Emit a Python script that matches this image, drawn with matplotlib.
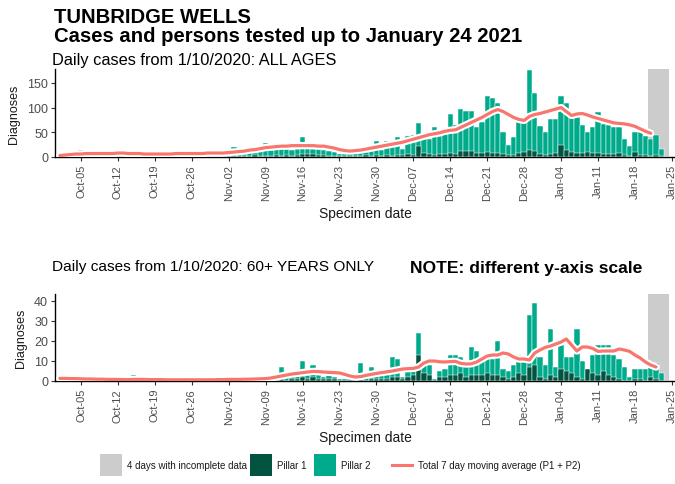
import numpy as np
import pandas as pd
import matplotlib
matplotlib.use("Agg")
import matplotlib.pyplot as plt
import matplotlib.dates as mdates
import matplotlib.patheffects as pe
from matplotlib.patches import Rectangle
from matplotlib.lines import Line2D

plt.rcParams['font.family'] = ['Liberation Sans', 'DejaVu Sans']

# specimen dates, 1 Oct 2020 .. 24 Jan 2021
dates = pd.date_range("2020-10-01", "2021-01-24", freq="D")
incomplete_start = pd.Timestamp("2021-01-21")
incomplete_days = 4

# ---- all ages: total cases (P1 + P2) and pillar 1 cases ----
all_total = [
    3, 5, 4, 6, 15, 7, 5, 6, 8, 4, 5, 7, 6, 5, 8, 6, 4, 5, 7, 6, 5, 4, 6, 7, 5, 8, 6, 5, 7, 6, 9,
    6, 8, 21, 10, 11, 12, 13, 14, 28, 15, 16, 17, 16, 15, 17, 40, 18, 17, 16, 14, 12, 10,
    6, 7, 8, 9, 10, 11, 12, 32, 14, 33, 22, 41, 16, 43, 45,
    68,
    38, 36, 61, 43, 47, 87, 64, 97, 94, 94, 60, 70, 123, 119, 109, 50, 24, 40, 72, 78,
    175, 129, 63, 50, 77, 77, 124, 109, 87, 80, 64, 50, 60, 92, 67, 64, 60, 60, 36, 23,
    50, 50, 43, 37, 45, 16, 0,
]
all_p1 = [
    1, 0, 1, 2, 1, 0, 1, 1, 0, 2, 1, 1, 0, 1, 2, 1, 0, 1, 1, 0, 1, 2, 1, 0, 1, 1, 2, 1, 0, 1, 2,
    2, 1, 3, 2, 2, 3, 4, 3, 2, 3, 4, 3, 4, 3, 5, 6, 7, 6, 5, 4, 3, 2,
    3, 2, 3, 2, 3, 4, 2, 5, 3, 4, 3, 5, 4, 6, 5,
    22,
    8, 6, 5, 7, 6, 8, 7, 12, 13, 12, 8, 9, 10, 8, 9, 7, 4, 5, 8, 11,
    14, 13, 6, 5, 7, 8, 24, 15, 11, 9, 8, 10, 9, 8, 7, 6, 7, 9, 4, 3,
    10, 5, 4, 3, 4, 2, 0,
]
# 7 day moving average of all ages, up to 21 Jan
all_avg = [
    3, 4, 5, 6, 6, 7, 7, 7, 7, 7, 7, 8, 8, 7, 7, 7, 6, 6, 6, 6, 6, 6, 7, 7, 7, 7, 7, 7, 8, 8, 8,
    8, 9, 10, 11, 12, 14, 15, 17, 19, 20, 21, 22, 22, 23, 23, 23, 23, 23, 22, 22, 20, 18,
    15, 13, 12, 13, 14, 16, 18, 20, 22, 24, 26, 28, 30, 33, 36,
    39,
    42, 45, 47, 49, 52, 54, 55, 60, 65, 70, 75, 80, 86, 92, 96, 92, 86, 80, 76, 74,
    82, 86, 88, 91, 94, 97, 100, 92, 84, 87, 88, 85, 81, 78, 75, 72, 69, 68, 67, 65,
    62, 57, 52, 48,
]

# ---- 60+ years ----
old_total = [
    1, 3, 2, 2, 2, 1, 1, 0, 1, 1, 0, 1, 1, 0, 3, 1, 0, 1, 0, 1, 1, 0, 1, 0, 1, 1, 0, 1, 0, 1, 1,
    0, 1, 1, 0, 1, 1, 0, 1, 1, 2, 1, 7, 3, 3, 3, 10, 3, 8, 3, 2, 3, 2,
    1, 1, 1, 2, 9, 2, 7, 3, 4, 5, 12, 11, 2, 5, 5,
    24,
    8, 8, 1, 5, 6, 13, 13, 12, 10, 17, 15, 11, 11, 11, 20, 6, 5, 8, 13, 10,
    33, 39, 12, 8, 26, 7, 18, 12, 12, 26, 10, 5, 13, 18, 18, 18, 13, 11, 7, 2,
    6, 6, 6, 10, 9, 4, 0,
]
old_p1 = [
    0, 0, 0, 1, 0, 0, 0, 0, 0, 0, 0, 0, 0, 0, 0, 0, 0, 0, 0, 0, 0, 0, 0, 0, 0, 0, 0, 0, 0, 0, 0,
    0, 0, 0, 0, 0, 0, 0, 0, 0, 0, 0, 1, 0, 1, 1, 2, 1, 2, 1, 1, 1, 1,
    0, 0, 0, 0, 1, 0, 1, 1, 1, 1, 2, 2, 1, 2, 3,
    13,
    4, 3, 0, 2, 2, 3, 3, 4, 2, 3, 3, 3, 4, 3, 3, 2, 1, 2, 4, 3,
    7, 8, 2, 1, 3, 2, 6, 5, 4, 2, 1, 6, 4, 3, 5, 3, 2, 1, 0, 0,
    1, 1, 0, 2, 1, 0, 0,
]
old_avg = [
    1.3, 1.3, 1.2, 1.2, 1.1, 1.0, 1.0, 0.9, 0.9, 0.8, 0.8, 0.8, 0.7, 0.7, 0.8, 0.8, 0.8, 0.7,
    0.7, 0.7, 0.6, 0.6, 0.6, 0.6, 0.6, 0.6, 0.6, 0.6, 0.6, 0.6, 0.7,
    0.7, 0.8, 0.8, 0.8, 0.9, 0.9, 1.0, 1.1, 1.2, 1.5, 2.0, 2.5, 3.0, 3.5, 3.8, 4.2, 4.5, 4.8,
    4.7, 4.5, 4.3, 4.2, 4.0,
    3.3, 2.5, 2.0, 2.2, 2.8, 3.3, 3.8, 4.2, 4.6, 5.0, 5.5, 6.0, 6.2, 6.3, 7.0,
    9.0,
    10.0, 10.0, 9.6, 9.5, 9.7, 9.8, 8.8, 8.5, 8.6, 9.5, 11.0, 12.5, 13.0, 13.0, 14.0, 13.5,
    12.0, 11.0, 11.0, 10.5,
    14.0, 15.5, 16.8, 17.5, 18.5, 19.5, 21.0, 18.0, 15.0, 17.0, 17.0, 16.3, 14.8, 15.0, 15.0,
    15.0, 16.0, 15.5, 14.8, 13.0,
    11.5, 9.5, 8.0, 7.0,
]

C_P1 = "#02533f"
C_P2 = "#00ab8c"
C_AVG = "#f8766d"
C_GREY = "#cccccc"
TXT = "#1a1a1a"
TICK = "#4d4d4d"

fig = plt.figure(figsize=(6.75, 4.85), dpi=100)
W, H = 675, 485


def fx(px):
    return px / W


def fy(py):
    return 1 - py / H


def ax_at(left, top, right, bottom):
    return fig.add_axes([fx(left), fy(bottom), (right - left) / W, (bottom - top) / H])


def draw_panel(ax, total, p1, avg, ymax, yticks):
    x = mdates.date2num(dates)
    ax.axvspan(mdates.date2num(incomplete_start) - 0.5,
               mdates.date2num(incomplete_start) + incomplete_days - 0.5,
               color=C_GREY, lw=0, zorder=0)
    ax.bar(x, total, width=1.0, color=C_P2, edgecolor="white", linewidth=0.35, zorder=2)
    ax.bar(x, p1, width=1.0, color=C_P1, edgecolor="white", linewidth=0.35, zorder=3)
    ax.plot(x[:len(avg)], avg, color=C_AVG, lw=2.3, solid_capstyle="round", zorder=4,
            path_effects=[pe.Stroke(linewidth=5.3, foreground="white"), pe.Normal()])
    ax.set_xlim(mdates.date2num(pd.Timestamp("2020-09-30")) + 0.07,
                mdates.date2num(pd.Timestamp("2021-01-25")) + 0.6)
    ax.set_ylim(0, ymax)
    ax.set_yticks(yticks)
    ax.xaxis.set_major_locator(mdates.WeekdayLocator(byweekday=mdates.MO))
    ax.xaxis.set_major_formatter(mdates.DateFormatter("%b-%d"))
    ax.tick_params(axis="x", labelrotation=90, labelsize=8, colors=TICK, length=3, pad=2)
    ax.tick_params(axis="y", labelsize=9, colors=TICK, length=3, pad=2)
    ax.tick_params(axis="both", color="#333333")
    for s in ("top", "right"):
        ax.spines[s].set_visible(False)
    for s in ("left", "bottom"):
        ax.spines[s].set_color("black")
        ax.spines[s].set_linewidth(1.0)
    ax.set_ylabel("Diagnoses", fontsize=9, color=TXT, labelpad=5)
    ax.set_xlabel("Specimen date", fontsize=10, color=TXT, labelpad=4)


ax1 = ax_at(55, 70, 675, 158)
draw_panel(ax1, all_total, all_p1, all_avg, 178, [0, 50, 100, 150])

ax2 = ax_at(55, 295, 675, 382)
draw_panel(ax2, old_total, old_p1, old_avg, 43.5, [0, 10, 20, 30, 40])

fig.text(fx(54), fy(8), "TUNBRIDGE WELLS", fontsize=14.6, fontweight="bold",
         color="black", va="top", ha="left")
fig.text(fx(54), fy(27), "Cases and persons tested up to January 24 2021", fontsize=14.6,
         fontweight="bold", color="black", va="top", ha="left")
fig.text(fx(52), fy(53), "Daily cases from 1/10/2020: ALL AGES", fontsize=11.8,
         color="black", va="top", ha="left")
fig.text(fx(52), fy(260), "Daily cases from 1/10/2020: 60+ YEARS ONLY", fontsize=11.1,
         color="black", va="top", ha="left")
fig.text(fx(410), fy(261), "NOTE: different y-axis scale", fontsize=12.6, fontweight="bold",
         color="black", va="top", ha="left")

# legend row along the bottom
leg_y = 466
leg_items = [
    ("box", C_GREY, 100, "4 days with incomplete data"),
    ("box", C_P1, 250, "Pillar 1"),
    ("box", C_P2, 314, "Pillar 2"),
    ("line", C_AVG, 391, "Total 7 day moving average (P1 + P2)"),
]
for kind, col, x0, label in leg_items:
    if kind == "box":
        fig.add_artist(Rectangle((fx(x0), fy(leg_y + 11)), 22 / W, 22 / H,
                                 transform=fig.transFigure, facecolor=col, edgecolor="none"))
    else:
        fig.add_artist(Line2D([fx(x0 + 1), fx(x0 + 21)], [fy(leg_y), fy(leg_y)],
                              transform=fig.transFigure, color=col, lw=2.2))
    fig.text(fx(x0 + 27), fy(leg_y), label, fontsize=7, color=TXT, va="center", ha="left")

fig.savefig("out.png", dpi=100)
